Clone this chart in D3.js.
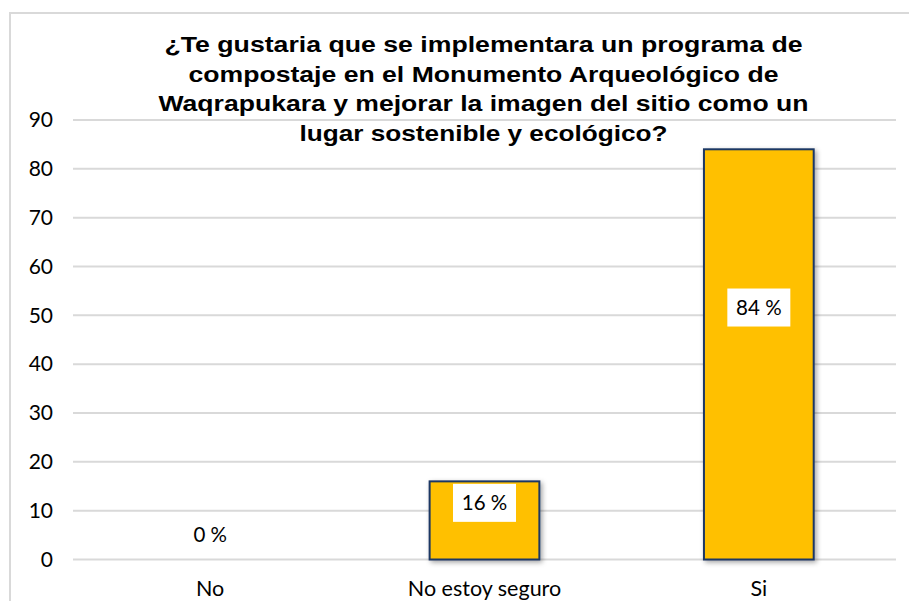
<!DOCTYPE html>
<html>
<head>
<meta charset="utf-8">
<script src="https://cdn.jsdelivr.net/npm/d3@7"></script>
<style>
  html, body { margin: 0; padding: 0; background: #fff; }
  svg { display: block; }
</style>
</head>
<body>
<div id="chart"></div>
<script>
// data
const categories = ["No", "No estoy seguro", "Si"];
const values = [0, 16, 84];
const labels = ["0 %", "16 %", "84 %"];
const labelAt = [5, 11.6, 51.6];   // where each data label sits (value units)
const yTicks = [0, 10, 20, 30, 40, 50, 60, 70, 80, 90];
const titleLines = [
  "¿Te gustaria que se implementara un programa de",
  "compostaje en el Monumento Arqueológico de",
  "Waqrapukara y mejorar la imagen del sitio como un",
  "lugar sostenible y ecológico?"
];
const titleWidths = [638, 590, 650, 368];

const W = 909, H = 601;
const svg = d3.select("#chart").append("svg")
  .attr("width", W).attr("height", H);

// drop shadow for bars
const defs = svg.append("defs");
const f = defs.append("filter").attr("id", "shadow")
  .attr("x", "-20%").attr("y", "-20%").attr("width", "140%").attr("height", "140%");
f.append("feDropShadow")
  .attr("dx", 2).attr("dy", 2).attr("stdDeviation", 2.5)
  .attr("flood-color", "#000").attr("flood-opacity", 0.35);

// outer chart border
svg.append("rect")
  .attr("x", 10).attr("y", 13).attr("width", W + 10).attr("height", H + 10)
  .attr("fill", "none").attr("stroke", "#d9d9d9").attr("stroke-width", 2);

const x = d3.scaleBand()
  .domain(categories)
  .range([73, 896])
  .paddingInner(0.6)
  .paddingOuter(0.3);

const y = d3.scaleLinear().domain([0, 90]).range([559.5, 120]);

// gridlines
svg.append("g").selectAll("line")
  .data(yTicks)
  .join("line")
  .attr("x1", 73).attr("x2", 896)
  .attr("y1", d => y(d)).attr("y2", d => y(d))
  .attr("stroke", "#d9d9d9").attr("stroke-width", 2);

// y axis labels
const yAxis = svg.append("g")
  .attr("transform", "translate(53,0)")
  .call(d3.axisLeft(y).tickValues(yTicks).tickSize(0).tickPadding(0));
yAxis.select(".domain").remove();
yAxis.selectAll("text")
  .attr("font-family", "Lato, 'Open Sans', sans-serif")
  .attr("font-size", 21)
  .attr("fill", "#000");

// x axis labels
const xAxis = svg.append("g")
  .attr("transform", "translate(0,581)")
  .call(d3.axisBottom(x).tickSize(0).tickPadding(0));
xAxis.select(".domain").remove();
xAxis.selectAll("text")
  .attr("font-family", "Lato, 'Open Sans', sans-serif")
  .attr("font-size", 21.5)
  .attr("fill", "#000");

// bars
svg.append("g").selectAll("rect")
  .data(values.map((v, i) => ({ cat: categories[i], v })))
  .join("rect")
  .filter(d => d.v > 0)
  .attr("x", d => x(d.cat))
  .attr("y", d => y(d.v))
  .attr("width", x.bandwidth())
  .attr("height", d => y(0) - y(d.v))
  .attr("fill", "#ffc000")
  .attr("stroke", "#1f3864")
  .attr("stroke-width", 2)
  .attr("filter", "url(#shadow)");

// data labels with white boxes
const lab = svg.append("g").selectAll("g")
  .data(labels.map((t, i) => ({ cat: categories[i], t, at: labelAt[i] })))
  .join("g")
  .attr("transform", d => `translate(${x(d.cat) + x.bandwidth() / 2},${y(d.at)})`);
lab.append("rect")
  .attr("x", -31.5).attr("y", -19).attr("width", 63).attr("height", 38)
  .attr("fill", "#fff");
lab.append("text")
  .attr("text-anchor", "middle")
  .attr("dy", "0.35em")
  .attr("font-family", "Lato, 'Open Sans', sans-serif")
  .attr("font-size", 20.5)
  .attr("fill", "#000")
  .text(d => d.t);

// title (reference glyphs are a bit wider than Arial, so stretch to fit)
svg.append("g").selectAll("text")
  .data(titleLines)
  .join("text")
  .attr("x", (d, i) => 483.5 - titleWidths[i] / 2)
  .attr("y", (d, i) => 52 + i * 29.5)
  .attr("textLength", (d, i) => titleWidths[i])
  .attr("lengthAdjust", "spacingAndGlyphs")
  .attr("font-family", "'Liberation Sans', Arial, sans-serif")
  .attr("font-weight", "bold")
  .attr("font-size", 22.5)
  .attr("fill", "#000")
  .text(d => d);
</script>
</body>
</html>
